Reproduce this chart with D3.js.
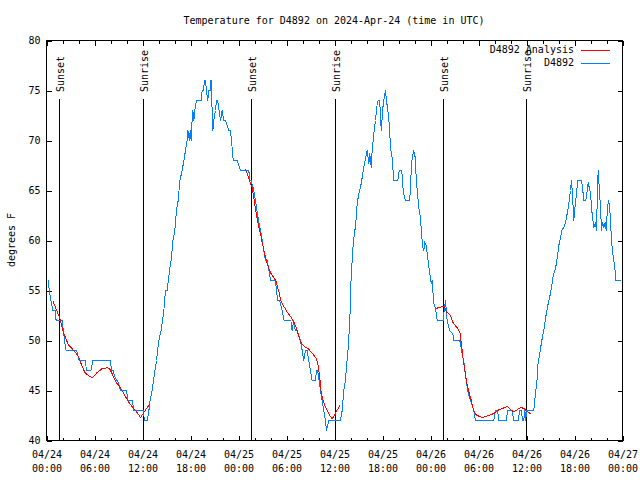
<!DOCTYPE html>
<html><head><meta charset="utf-8">
<script src="https://cdn.jsdelivr.net/npm/d3@7"></script>
<style>
body{margin:0;background:#fff}
svg{display:block;background:#fff}
text{font-family:"DejaVu Sans Mono","Liberation Mono",monospace;font-size:10px;fill:#000}
</style>
</head><body>
<svg id="c" width="640" height="480"></svg>
<script>
// ---------- data ----------
const chartTitle = "Temperature for D4892 on 2024-Apr-24 (time in UTC)";
const yAxisLabel = "degrees F";
const seriesNames = ["D4892 Analysis", "D4892"];
const seriesColors = ["#ff0000", "#0080ff"];

const xMajorHours = [0,6,12,18,24,30,36,42,48,54,60,66,72];
const xTickDates  = ["04/24","04/24","04/24","04/24","04/25","04/25","04/25","04/25","04/26","04/26","04/26","04/26","04/27"];
const xTickTimes  = ["00:00","06:00","12:00","18:00","00:00","06:00","12:00","18:00","00:00","06:00","12:00","18:00","00:00"];
const xMinorHours = [2,4,8,10,14,16,20,22,26,28,32,34,38,40,44,46,50,52,56,58,62,64,68,70];
const yTicks = [40,45,50,55,60,65,70,75,80];

const sunsetHours  = [1.67, 25.67, 49.67];
const sunriseHours = [12.13, 36.13, 60.0];

// analysis (red) – null separates the three nightly runs
const analysisHours = [
 0.79,1.125,1.42,1.67,1.875,2.17,2.5,2.8,3.08,3.4,3.75,4.04,4.25,4.54,4.79,5.08,5.42,5.71,6.0,6.33,6.67,6.96,7.29,7.58,7.875,8.125,8.42,8.71,9.04,9.33,9.67,10.0,10.3,10.58,10.9,11.33,11.75,12.17,12.5,12.875,
 null,
 24.8,25.08,25.29,25.5,25.7,25.9,26.1,26.3,26.5,26.75,26.96,27.17,27.375,27.58,27.8,28.0,28.2,28.5,28.75,28.9,29.1,29.3,29.6,29.9,30.2,30.5,30.8,31.0,31.2,31.4,31.6,31.8,32.1,32.4,32.7,33.0,33.3,33.5,33.75,33.9,34.04,34.2,34.3,34.5,34.8,35.08,35.4,35.7,36.0,36.3,36.7,
 null,
 48.7,49.04,49.5,49.75,50.0,50.3,50.6,50.8,51.1,51.4,51.7,51.8,51.96,52.1,52.25,52.4,52.5,52.7,52.9,53.1,53.3,53.5,53.8,54.2,54.5,54.9,55.2,55.6,55.9,56.25,56.6,56.96,57.3,57.6,57.9,58.1,58.4,58.75,59.04,59.3,59.7,60.0,60.3,60.6
];
const analysisTemps = [
 54,53.3,52.7,52.2,51.5,50.7,50,49.5,49.3,49,48.7,48.3,47.8,47.3,46.8,46.6,46.4,46.3,46.5,46.8,47,47.2,47.2,47.3,47.2,46.8,46.3,45.8,45.5,45.1,44.7,44.2,43.8,43.5,43.2,42.8,42.3,42.8,43.2,43.6,
 null,
 67.2,66.7,66.2,65.7,65.3,64.3,63.3,62.3,61.5,60.7,59.8,59,58.3,57.7,57.2,56.8,56.5,56.2,55.8,55.3,54.7,54,53.5,53.1,52.7,52.4,52,51.7,51.3,50.8,50.3,49.8,49.5,49.3,49.2,48.9,48.7,48.4,48.2,47.7,47,46,45,44.2,43.5,43,42.5,42.2,42.5,43,43.5,
 null,
 53.2,53.3,53.4,53.4,52.8,52.7,52.3,51.8,51.5,51.2,50.7,50,49,48,47.3,46.5,45.8,45.2,44.5,44,43.3,42.8,42.5,42.4,42.3,42.4,42.5,42.6,42.7,42.9,43.1,43.2,43.3,43.4,43.2,43,42.9,43,43.2,43.3,43.2,42.9,42.8,42.6
];

// observations (blue)
const obsHours = [
 0.2,0.35,0.55,0.8,1.1,1.2,1.95,2.1,2.25,2.45,3.75,4.1,4.85,5.0,5.55,5.8,8.0,8.125,8.33,8.5,8.75,8.9,9.25,10.0,10.17,10.75,10.9,12.1,12.25,12.6,
 12.8,12.95,13.2,13.375,13.75,14.04,14.33,14.67,14.875,15.08,15.375,15.58,15.8,16.04,16.25,16.46,16.67,16.96,17.17,17.375,17.58,17.67,17.875,17.96,18.08,18.2,18.29,18.42,18.54,18.75,19.33,19.46,19.6,19.75,19.875,20.0,20.16,20.3,20.45,20.55,20.6,20.7,20.79,20.91,21.125,21.25,21.4,21.58,21.75,21.96,22.16,22.375,22.79,23.0,23.125,23.34,23.84,24.25,25.29,
 25.41,25.59,25.91,26.125,26.3,26.5,26.75,26.96,27.16,27.375,27.6,27.8,28.0,28.625,28.75,28.9,29.15,29.45,29.7,30.55,30.7,30.9,31.1,31.3,31.75,31.96,32.16,32.375,32.58,32.79,33.0,33.2,33.625,33.75,33.9,34.08,34.25,34.46,34.66,34.875,35.0,35.29,36.75,
 36.96,37.16,37.375,37.5,37.66,37.79,37.91,38.0,38.09,38.21,38.34,38.5,38.66,38.84,39.04,39.25,39.46,39.66,39.875,40.09,40.29,40.41,40.59,40.71,40.91,41.125,41.34,41.46,41.66,41.75,41.875,42.0,42.16,42.375,42.5,42.71,42.875,43.0,43.2,43.34,43.41,43.91,44.09,44.41,44.59,44.75,44.91,45.41,45.54,45.71,45.91,46.09,46.21,46.375,46.54,46.75,46.875,47.04,47.16,47.29,47.45,47.59,47.75,47.91,48.09,48.2,48.41,48.625,48.84,49.59,49.66,49.875,50.0,50.08,50.3,50.41,50.59,50.79,50.9,51.66,51.75,51.875,52.04,52.16,52.29,52.46,52.59,52.79,53.0,53.2,53.41,53.625,55.9,56.125,56.375,56.54,57.46,57.66,58.2,58.41,58.96,59.16,59.375,59.5,59.66,59.79,59.91,60.0,
 60.91,61.125,61.34,61.41,61.625,61.75,61.96,62.16,62.375,62.59,62.79,63.0,63.2,63.34,63.54,63.75,63.91,64.04,64.25,64.46,64.66,64.875,65.09,65.29,65.5,65.625,65.71,65.84,65.91,66.04,66.25,66.41,66.875,67.04,67.16,67.41,67.59,67.71,67.84,68.0,68.2,68.41,68.625,68.75,68.84,68.96,69.09,69.25,69.375,69.5,69.66,69.84,69.96,70.125,70.25,70.375,70.5,70.625,70.79,70.91,71.04,71.125,71.75
];
const obsTemps = [
 56,55,54,53,53,52,52,51,50,49,49,48,48,47,47,48,48,47,47,46.5,46,46,45,45,44,44,43,43,42,42,
 43,44,45,46,48,50,51,53,55,55,57,58,60,61,63,64,66,67,68,69,70,71,70,71,70,72,73,72,73,74,74,75,75,76,76,75,74,75,75,76,76,73,71,72,73,74,74,73,72,73,72,72,71,71,70,68,68,67,67,
 66,66,65,64,63,62,61,60,59,58,58,57,56,56,55,54,54,53,52,52,51,52,51,51,50,49,48,49,49,48,47,46,46,47,47,46,45,44,43,42,41,42,42,
 43,45,46,47.5,48.7,50.3,52,54,56.7,58,59.7,60.7,61.7,63.7,64.7,65.3,66.3,67.3,68.2,69,67.7,68.7,67.3,69,70.7,72,73.7,74,74,72,71,73,74,75,74,72.7,71.3,69.3,68.3,66.7,66,66,67,67,65,64.3,64,64,66.3,68.3,69,68.3,66.3,64.7,63.3,62.3,60.7,59.3,59,59.8,59.5,58.7,57.7,56.7,55.7,56,53.7,53.2,52,52,52.7,54,52.7,52,51.3,51,50.8,50.7,50,50,49.7,49,48.3,48,47,46,45.3,44.5,44,43.5,43,42,42,43,43,42,42,43,43,42,42,43,43,42,42,43,42,43,
 43,44.7,46.2,47.5,48.5,49.2,50.2,51,52.2,53.2,54,54.7,55.7,56.5,57,57.7,58.7,59.5,60.3,61.1,61.3,61.8,62.7,63.7,65,66,65,63.2,62,63.2,64.7,66,66,65,64,64,65,65.8,65.3,64.7,62.7,61.3,61.8,61,64,67,65.3,63.3,61,61.8,61.3,61.8,61,63.3,64,63.5,62,60,58.7,58,57.5,56,56
];

// ---------- drawing ----------
const svg = d3.select("#c");
const x = d3.scaleLinear().domain([0,72]).range([46.5,622.5]);
const y = d3.scaleLinear().domain([40,80]).range([440.5,40.5]);

function styleAxis(g){
  g.attr("font-family",null).attr("font-size",null);
  g.select(".domain").remove();
  g.selectAll("line").attr("stroke","#000").attr("shape-rendering","crispEdges");
}

// x axis bottom major with labels
const gxb = svg.append("g").attr("transform",`translate(0,${y(40)})`)
  .call(d3.axisBottom(x).tickValues(xMajorHours).tickSize(-5).tickFormat(()=>""));
styleAxis(gxb);
gxb.selectAll(".tick text").each(function(d,i){
  const t = d3.select(this).attr("dy",null).attr("y",null).text(null);
  t.append("tspan").attr("x",0).attr("y",17).text(xTickDates[i]);
  t.append("tspan").attr("x",0).attr("y",31).text(xTickTimes[i]);
});
const gxbm = svg.append("g").attr("transform",`translate(0,${y(40)})`)
  .call(d3.axisBottom(x).tickValues(xMinorHours).tickSize(-3).tickFormat(()=>""));
styleAxis(gxbm);
// top mirror
const gxt = svg.append("g").attr("transform",`translate(0,${y(80)})`)
  .call(d3.axisTop(x).tickValues(xMajorHours).tickSize(-5).tickFormat(()=>""));
styleAxis(gxt);
const gxtm = svg.append("g").attr("transform",`translate(0,${y(80)})`)
  .call(d3.axisTop(x).tickValues(xMinorHours).tickSize(-3).tickFormat(()=>""));
styleAxis(gxtm);
// y axes
const gyl = svg.append("g").attr("transform",`translate(${x(0)},0)`)
  .call(d3.axisLeft(y).tickValues(yTicks).tickSize(-5).tickPadding(6).tickFormat(d3.format("d")));
styleAxis(gyl);
const gyr = svg.append("g").attr("transform",`translate(${x(72)},0)`)
  .call(d3.axisRight(y).tickValues(yTicks).tickSize(-5).tickFormat(()=>""));
styleAxis(gyr);

// frame
svg.append("rect").attr("x",x(0)).attr("y",y(80)).attr("width",x(72)-x(0)).attr("height",y(40)-y(80))
  .attr("fill","none").attr("stroke","#000").attr("shape-rendering","crispEdges");

// sunset / sunrise markers
const markers = sunsetHours.map(h=>({h,label:"Sunset"})).concat(sunriseHours.map(h=>({h,label:"Sunrise"})));
const mg = svg.append("g");
mg.selectAll("line").data(markers).join("line")
  .attr("x1",d=>Math.round(x(d.h)-0.5)+0.5).attr("x2",d=>Math.round(x(d.h)-0.5)+0.5)
  .attr("y1",99).attr("y2",y(40))
  .attr("stroke","#000").attr("stroke-width",1).attr("shape-rendering","crispEdges");
mg.selectAll("text").data(markers).join("text")
  .attr("transform",d=>`translate(${x(d.h)+1},92) rotate(-90)`)
  .attr("text-anchor","start").attr("dominant-baseline","central")
  .text(d=>d.label);

// series
const line = d3.line().defined(d=>d[1]!==null).x(d=>x(d[0])).y(d=>y(d[1]));
const analysisData = analysisHours.map((h,i)=>[h,analysisTemps[i]]);
const obsData = obsHours.map((h,i)=>[h,obsTemps[i]]);
svg.append("path").datum(obsData).attr("d",line)
  .attr("fill","none").attr("stroke",seriesColors[1]).attr("stroke-width",1).attr("shape-rendering","crispEdges");
svg.append("path").datum(analysisData).attr("d",line)
  .attr("fill","none").attr("stroke",seriesColors[0]).attr("stroke-width",1).attr("shape-rendering","crispEdges");

// legend
const lg = svg.append("g");
seriesNames.forEach((name,i)=>{
  const yy = 49.5 + i*13;
  lg.append("text").attr("x",574).attr("y",yy).attr("text-anchor","end").attr("dominant-baseline","central").text(name);
  lg.append("line").attr("x1",581).attr("x2",610).attr("y1",Math.round(yy)+0.5).attr("y2",Math.round(yy)+0.5)
    .attr("stroke",seriesColors[i]).attr("stroke-width",1).attr("shape-rendering","crispEdges");
});

// title & y label
svg.append("text").attr("x",334).attr("y",20).attr("text-anchor","middle").attr("dominant-baseline","central").text(chartTitle);
svg.append("text").attr("transform","translate(11,240) rotate(-90)").attr("text-anchor","middle").attr("dominant-baseline","central").text(yAxisLabel);
</script>
</body></html>
